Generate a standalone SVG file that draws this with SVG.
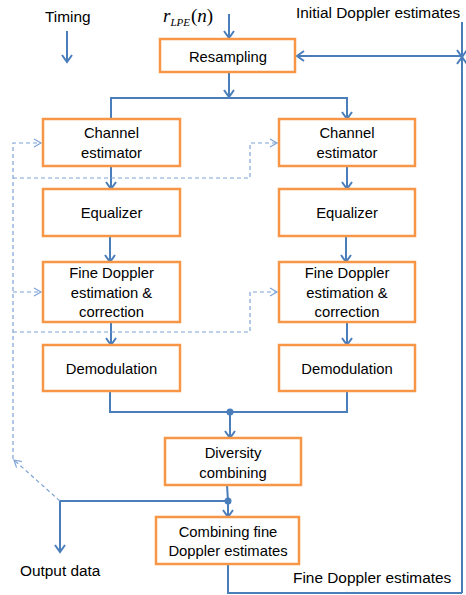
<svg xmlns="http://www.w3.org/2000/svg" width="466" height="595" viewBox="0 0 466 595">
<style>
.box{fill:#fff;stroke:#F79646;stroke-width:2.5}
.t{font-family:"Liberation Sans",Arial,sans-serif;font-size:14.8px;fill:#000;text-anchor:middle}
.lbl{font-family:"Liberation Sans",Arial,sans-serif;font-size:15.4px;fill:#000}
.w{fill:none;stroke:#4A7EBB;stroke-width:2}
.d{fill:none;stroke:#7FA3D5;stroke-width:1.2;stroke-dasharray:4 3}
</style>
<defs>
<marker id="a" markerUnits="userSpaceOnUse" markerWidth="14" markerHeight="14" refX="10" refY="6" orient="auto" viewBox="0 0 14 12">
<path d="M3,1 L10,6 L3,11" fill="none" stroke="#4A7EBB" stroke-width="2"/>
</marker>
<marker id="ad" markerUnits="userSpaceOnUse" markerWidth="12" markerHeight="12" refX="9" refY="5" orient="auto" viewBox="0 0 12 10">
<path d="M2,1 L9,5 L2,9" fill="none" stroke="#7FA3D5" stroke-width="1.2"/>
</marker>
</defs>
<rect width="466" height="595" fill="#fff"/>

<g id="connectors">
<line class="w" x1="67" y1="31" x2="67" y2="62" marker-end="url(#a)"/>
<line class="w" x1="229" y1="14" x2="229" y2="38" marker-end="url(#a)"/>
<line class="w" x1="462" y1="22" x2="462" y2="57" marker-end="url(#a)"/>
<line class="w" x1="462" y1="593" x2="462" y2="57" marker-end="url(#a)"/>
<line class="w" x1="462" y1="56" x2="297" y2="56" marker-end="url(#a)"/>
<line class="w" x1="229" y1="72" x2="229" y2="97" marker-end="url(#a)"/>
<polyline class="w" points="111,119 111,98 347,98 347,119" marker-start="url(#a)" marker-end="url(#a)"/>
<line class="w" x1="111" y1="166" x2="111" y2="189" marker-end="url(#a)"/>
<line class="w" x1="347" y1="166" x2="347" y2="189" marker-end="url(#a)"/>
<line class="w" x1="110" y1="236" x2="110" y2="262" marker-end="url(#a)"/>
<line class="w" x1="346" y1="236" x2="346" y2="262" marker-end="url(#a)"/>
<line class="w" x1="111" y1="322" x2="111" y2="345" marker-end="url(#a)"/>
<line class="w" x1="347" y1="322" x2="347" y2="345" marker-end="url(#a)"/>
<polyline class="w" points="110,391 110,412 347,412 347,391"/>
<circle cx="230" cy="412" r="3.5" fill="#4A7EBB"/>
<line class="w" x1="230" y1="412" x2="230" y2="438" marker-end="url(#a)"/>
<line class="w" x1="227" y1="485" x2="228" y2="501"/>
<polyline class="w" points="228,501 60,501 60,552" marker-end="url(#a)"/>
<circle cx="228" cy="501" r="3.5" fill="#4A7EBB"/>
<line class="w" x1="228" y1="501" x2="228" y2="517" marker-end="url(#a)"/>
<polyline class="w" points="228,564 228,593 462,593"/>

<line class="d" x1="60" y1="501" x2="14" y2="460" marker-end="url(#ad)"/>
<polyline class="d" points="13,459 13,143 41,143" marker-end="url(#ad)"/>
<line class="d" x1="13" y1="292" x2="41" y2="292" marker-end="url(#ad)"/>
<polyline class="d" points="13,178 250,178 250,143 277,143" marker-end="url(#ad)"/>
<polyline class="d" points="13,332 250,332 250,292 277,292" marker-end="url(#ad)"/>
</g>

<g id="timing"><text class="lbl" x="45" y="22">Timing</text></g>
<g id="input"><text x="163" y="22" font-family="'Liberation Serif','DejaVu Serif',serif" font-size="19"><tspan font-style="italic">r</tspan><tspan font-style="italic" font-size="11" dy="4">LPE</tspan><tspan dy="-4" dx="1">(</tspan><tspan font-style="italic">n</tspan><tspan>)</tspan></text></g>
<g id="initial"><text class="lbl" x="296" y="18">Initial Doppler estimates</text></g>

<g id="resampling"><rect class="box" x="160" y="39" width="135" height="33"/><text class="t" x="228" y="62">Resampling</text></g>

<g id="chan1"><rect class="box" x="43" y="119" width="137" height="47"/><text class="t" x="111.5" y="138">Channel</text><text class="t" x="111.5" y="158">estimator</text></g>
<g id="chan2"><rect class="box" x="279" y="119" width="136" height="47"/><text class="t" x="347" y="138">Channel</text><text class="t" x="347" y="158">estimator</text></g>

<g id="eq1"><rect class="box" x="43" y="189" width="137" height="47"/><text class="t" x="111.5" y="218">Equalizer</text></g>
<g id="eq2"><rect class="box" x="279" y="189" width="136" height="47"/><text class="t" x="347" y="218">Equalizer</text></g>

<g id="fine1"><rect class="box" x="43" y="262" width="137" height="60"/><text class="t" x="111.5" y="278">Fine Doppler</text><text class="t" x="111.5" y="298">estimation &amp;</text><text class="t" x="111.5" y="317">correction</text></g>
<g id="fine2"><rect class="box" x="279" y="262" width="136" height="60"/><text class="t" x="347" y="278">Fine Doppler</text><text class="t" x="347" y="298">estimation &amp;</text><text class="t" x="347" y="317">correction</text></g>

<g id="demod1"><rect class="box" x="43" y="345" width="137" height="46"/><text class="t" x="111.5" y="374">Demodulation</text></g>
<g id="demod2"><rect class="box" x="279" y="345" width="136" height="46"/><text class="t" x="347" y="374">Demodulation</text></g>

<g id="diversity"><rect class="box" x="165" y="438" width="136" height="47"/><text class="t" x="233" y="458">Diversity</text><text class="t" x="233" y="478">combining</text></g>

<g id="combfine"><rect class="box" x="156" y="517" width="143" height="47"/><text class="t" x="228" y="537">Combining fine</text><text class="t" x="228" y="556">Doppler estimates</text></g>

<g id="output"><text class="lbl" x="20" y="576">Output data</text></g>
<g id="finelabel"><text class="lbl" x="293" y="583">Fine Doppler estimates</text></g>
</svg>
